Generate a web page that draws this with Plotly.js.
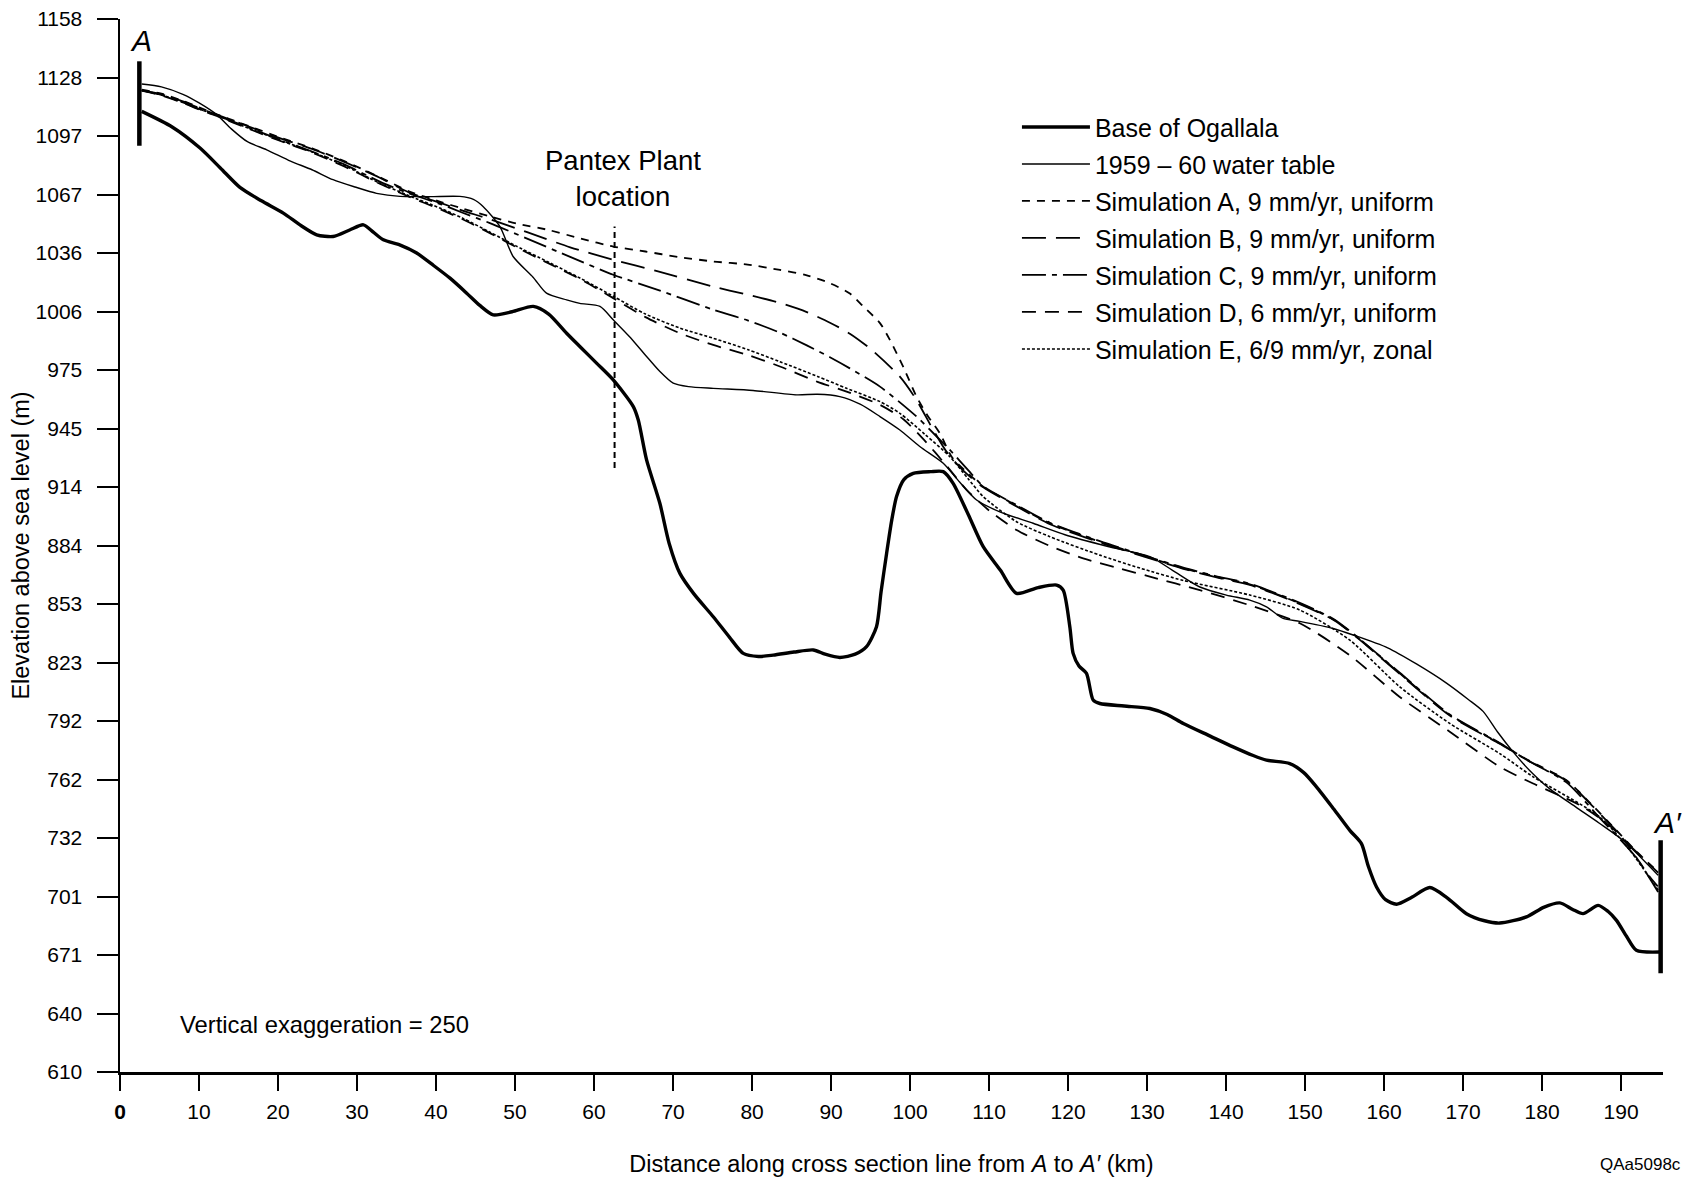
<!DOCTYPE html>
<html>
<head>
<meta charset="utf-8">
<script src="https://cdn.plot.ly/plotly-3.0.1.min.js"></script>
<style>html,body{margin:0;padding:0;background:#fff;}#chart{width:1687px;height:1177px;}</style>
</head>
<body>
<div id="chart"></div>
<script>
// ---- Data (distance along section in km, elevation in m) ----
const baseKm = [2.75, 6.60, 10.13, 12.73, 15.18, 17.90, 20.67, 22.94, 24.89, 26.97, 29.07, 30.80, 32.06, 33.33, 35.47, 37.55, 39.69, 41.77, 43.88, 45.54, 47.24, 49.63, 52.31, 54.26, 56.53, 58.20, 60.38, 62.43, 64.97, 65.60, 66.65, 68.33, 69.51, 70.87, 72.64, 75.09, 77.13, 78.89, 80.81, 82.68, 85.30, 87.75, 89.25, 91.11, 93.06, 94.49, 95.75, 96.33, 97.03, 97.69, 98.29, 99.19, 100.40, 102.59, 104.20, 105.45, 107.35, 109.26, 111.44, 113.48, 116.20, 118.55, 119.38, 120.22, 120.64, 121.38, 122.33, 123.17, 124.02, 127.10, 130.35, 132.54, 134.58, 137.99, 140.89, 143.43, 145.11, 148.06, 149.83, 151.44, 153.65, 155.66, 157.13, 158.00, 159.04, 160.18, 161.57, 163.45, 165.78, 167.94, 170.42, 172.71, 174.64, 178.02, 180.19, 182.24, 183.87, 185.18, 187.09, 188.36, 189.41, 190.68, 191.93, 194.89];
const baseM = [1110.1, 1102.0, 1091.0, 1080.5, 1070.5, 1063.5, 1057.1, 1050.5, 1045.8, 1044.9, 1048.3, 1051.0, 1047.2, 1043.2, 1040.4, 1036.3, 1029.8, 1023.2, 1015.4, 1009.0, 1004.1, 1005.7, 1008.5, 1004.5, 994.5, 987.6, 978.7, 970.2, 956.3, 949.3, 928.5, 905.9, 885.0, 869.4, 858.7, 846.8, 836.2, 827.7, 826.1, 826.8, 828.4, 829.5, 827.3, 825.6, 827.3, 831.2, 841.6, 859.8, 879.8, 897.4, 909.4, 918.1, 921.5, 922.4, 922.4, 916.3, 900.2, 883.3, 871.0, 859.0, 862.0, 863.3, 860.7, 841.6, 827.7, 821.1, 817.3, 803.4, 801.6, 800.3, 799.0, 795.9, 791.2, 784.6, 779.0, 774.5, 772.1, 770.3, 765.6, 758.2, 746.5, 735.5, 728.6, 716.8, 706.0, 699.4, 697.0, 700.5, 705.7, 700.5, 692.1, 688.4, 687.2, 690.4, 695.4, 697.7, 694.3, 692.1, 696.4, 693.2, 688.6, 680.3, 673.0, 672.1];

const waterKm = [2.75, 5.24, 7.96, 10.01, 12.24, 14.09, 16.13, 18.57, 21.58, 24.30, 26.97, 29.75, 32.47, 35.44, 39.28, 43.02, 44.73, 45.95, 48.09, 49.76, 52.31, 53.98, 56.53, 58.20, 60.75, 62.43, 64.47, 66.65, 68.28, 70.02, 71.96, 75.09, 80.13, 85.64, 88.29, 91.11, 93.74, 96.19, 98.71, 101.23, 104.20, 106.27, 108.42, 111.44, 115.58, 119.61, 125.05, 130.35, 133.22, 136.68, 140.03, 143.0, 145.11, 147.22, 149.33, 153.55, 156.08, 160.45, 164.09, 167.94, 170.66, 172.53, 174.34, 176.33, 178.42, 180.97, 184.28, 187.29, 190.41, 194.68];
const waterM = [1124.4, 1122.9, 1119.0, 1114.5, 1108.4, 1101.0, 1094.3, 1090.1, 1084.2, 1079.7, 1074.5, 1070.7, 1067.4, 1065.8, 1065.7, 1065.8, 1064.3, 1060.6, 1050.1, 1034.5, 1023.6, 1015.4, 1011.9, 1010.1, 1008.5, 1001.5, 992.8, 982.4, 974.8, 968.5, 966.7, 965.8, 964.7, 962.4, 962.7, 961.5, 957.4, 951.1, 944.1, 935.5, 926.8, 917.0, 907.6, 901.3, 895.5, 889.5, 883.4, 878.1, 871.0, 862.3, 858.1, 855.5, 852.0, 845.9, 844.4, 840.7, 837.3, 830.6, 822.2, 812.1, 803.7, 797.5, 786.9, 776.4, 766.7, 757.1, 747.6, 739.1, 729.7, 712.1];

const simAKm = [2.75, 5.24, 7.96, 10.01, 12.24, 16.13, 20.22, 24.30, 28.39, 32.88, 36.56, 40.64, 43.36, 46.82, 50.17, 54.26, 58.34, 62.43, 66.51, 70.59, 75.09, 79.44, 83.53, 86.93, 89.86, 92.38, 94.07, 96.19, 97.44, 99.19, 100.82, 102.18, 103.77, 105.31, 107.35, 109.26, 113.48, 117.70, 124.02, 130.35, 134.58, 138.67, 143.0, 149.33, 153.65, 156.5, 161.98, 168.31, 174.64, 178.15, 183.08, 186.32, 189.41, 191.77, 194.68];
const simAM = [1121.4, 1119.3, 1115.6, 1112.2, 1108.6, 1102.7, 1096.5, 1090.9, 1084.2, 1075.8, 1068.5, 1062.9, 1059.5, 1055.4, 1051.7, 1048.3, 1043.8, 1039.7, 1037.1, 1034.3, 1031.9, 1030.3, 1027.5, 1024.7, 1020.6, 1015.2, 1008.5, 999.8, 991.1, 976.5, 961.5, 951.8, 942.4, 929.9, 921.5, 914.6, 904.7, 895.5, 885.9, 877.5, 872.1, 867.7, 863.7, 853.7, 845.2, 836.4, 817.3, 795.6, 780.8, 772.3, 761.6, 748.7, 735.5, 725.2, 713.8];

const simBKm = [2.75, 5.24, 7.96, 10.01, 12.24, 16.13, 20.22, 24.30, 28.39, 32.88, 36.56, 40.64, 43.36, 46.82, 51.53, 56.98, 62.43, 67.87, 75.09, 79.44, 83.53, 86.93, 89.86, 92.38, 95.10, 98.71, 100.82, 102.93, 104.63, 106.67, 109.26, 113.48, 117.70, 124.02, 130.35, 134.58, 138.67, 143.0, 149.33, 153.65, 156.5, 161.98, 168.31, 174.64, 178.15, 183.08, 186.32, 189.41, 191.77, 194.68];
const simBM = [1121.0, 1119.0, 1115.3, 1111.9, 1108.4, 1102.5, 1096.2, 1090.5, 1083.8, 1075.5, 1067.9, 1062.3, 1058.4, 1053.9, 1047.2, 1039.3, 1032.8, 1027.0, 1018.8, 1014.6, 1010.3, 1005.5, 1000.0, 994.3, 986.0, 971.9, 959.7, 944.1, 932.7, 923.2, 914.2, 904.3, 895.0, 885.5, 877.2, 871.8, 867.4, 863.4, 853.4, 845.0, 836.2, 817.0, 795.3, 780.6, 772.0, 761.3, 748.4, 735.2, 724.9, 713.5];

const simCKm = [2.75, 5.24, 7.96, 10.01, 12.24, 16.13, 20.22, 24.30, 28.39, 32.88, 36.56, 40.64, 43.36, 46.82, 51.53, 56.98, 62.43, 67.87, 75.09, 79.44, 83.53, 86.93, 89.86, 92.38, 96.19, 100.82, 103.27, 105.04, 107.35, 109.26, 113.48, 117.70, 124.02, 130.35, 134.58, 138.67, 143.0, 149.33, 153.65, 156.5, 161.98, 168.31, 174.64, 178.15, 183.08, 187.29, 191.77, 194.68];
const simCM = [1120.9, 1118.7, 1114.8, 1111.4, 1108.0, 1101.9, 1095.4, 1089.2, 1082.5, 1073.5, 1067.4, 1061.7, 1057.3, 1051.9, 1043.8, 1034.3, 1025.0, 1017.4, 1006.8, 1001.2, 994.8, 988.2, 982.0, 976.2, 966.7, 951.1, 941.1, 933.7, 923.2, 914.8, 905.0, 895.8, 886.2, 877.8, 872.4, 868.0, 864.0, 854.0, 845.5, 836.6, 817.6, 795.9, 781.0, 772.0, 760.5, 742.0, 722.0, 703.4];

const simDKm = [2.75, 5.24, 7.96, 10.01, 12.24, 16.13, 20.22, 24.30, 28.39, 32.88, 36.56, 40.64, 43.36, 46.82, 50.17, 54.26, 58.34, 62.43, 66.51, 70.87, 75.09, 79.44, 83.53, 88.29, 91.97, 96.19, 99.19, 101.91, 104.63, 107.15, 110.08, 113.48, 117.57, 121.91, 126.42, 130.35, 136.68, 142.75, 149.33, 155.66, 161.98, 168.31, 174.64, 178.86, 185.18, 189.72, 193.62, 194.68];
const simDM = [1120.9, 1118.4, 1114.5, 1111.1, 1107.7, 1101.3, 1094.8, 1088.7, 1081.4, 1072.4, 1065.7, 1058.9, 1053.9, 1046.7, 1039.3, 1030.9, 1022.5, 1012.8, 1002.9, 994.5, 988.4, 983.2, 977.2, 969.2, 964.1, 957.2, 949.6, 938.3, 925.4, 912.9, 901.9, 892.0, 883.9, 877.2, 872.1, 867.7, 860.7, 853.1, 843.4, 826.7, 805.0, 786.9, 768.6, 759.9, 747.7, 733.6, 711.3, 706.1];

const simEKm = [2.75, 5.24, 7.96, 10.01, 12.24, 16.13, 20.22, 24.30, 28.39, 32.88, 36.56, 40.64, 43.36, 46.82, 50.17, 54.26, 58.34, 62.43, 66.51, 70.87, 75.09, 79.44, 83.53, 88.29, 91.97, 96.19, 98.71, 101.91, 105.04, 107.35, 109.26, 113.48, 117.70, 124.02, 129.14, 134.58, 143.0, 149.33, 155.66, 161.98, 168.31, 174.64, 178.86, 187.29, 191.09, 194.68];
const simEM = [1121.1, 1118.7, 1114.8, 1111.4, 1108.0, 1101.6, 1095.1, 1089.0, 1081.9, 1072.7, 1066.2, 1059.5, 1054.5, 1047.2, 1039.9, 1031.5, 1023.0, 1013.8, 1004.5, 997.2, 991.9, 986.0, 979.7, 972.0, 965.8, 958.9, 952.8, 941.7, 930.2, 918.7, 909.4, 896.3, 888.5, 878.9, 872.1, 865.7, 858.1, 850.3, 834.6, 810.3, 791.2, 775.5, 763.4, 742.5, 725.2, 704.4];

const seriesNames = ["Base of Ogallala", "1959 – 60 water table", "Simulation A, 9 mm/yr, uniform", "Simulation B, 9 mm/yr, uniform", "Simulation C, 9 mm/yr, uniform", "Simulation D, 6 mm/yr, uniform", "Simulation E, 6/9 mm/yr, zonal"];

// Axis ticks
const xTickVals = [0, 10, 20, 30, 40, 50, 60, 70, 80, 90, 100, 110, 120, 130, 140, 150, 160, 170, 180, 190];
const xTickText = ["<b>0</b>", "10", "20", "30", "40", "50", "60", "70", "80", "90", "100", "110", "120", "130", "140", "150", "160", "170", "180", "190"];
const yTickVals = [609.6, 640.08, 670.56, 701.04, 731.52, 762.0, 792.48, 822.96, 853.44, 883.92, 914.4, 944.88, 975.36, 1005.84, 1036.32, 1066.8, 1097.28, 1127.76, 1158.24];
const yTickText = ["610", "640", "671", "701", "732", "762", "792", "823", "853", "884", "914", "945", "975", "1006", "1036", "1067", "1097", "1128", "1158"];

// Section end markers (A, A′) and Pantex Plant location
const sectionEndKm = [2.45, 195.0];
const sectionEndTopM = [1136.2, 730.4];
const sectionEndBottomM = [1092.2, 661.0];
const pantexKm = 62.6;
const pantexRangeM = [924.3, 1050.1];

const FONT = "Liberation Sans, Arial, Helvetica, sans-serif";

function tr(x, y, i, width, dash) {
  return {
    x: x, y: y, name: seriesNames[i], type: "scatter", mode: "lines",
    legendgroup: "g" + i,
    line: {color: "#000", width: width, dash: dash, shape: "spline", smoothing: 0.7},
    hoverinfo: "skip"
  };
}

const data = [
  tr(baseKm, baseM, 0, 3.4, "solid"),
  tr(waterKm, waterM, 1, 1.4, "solid"),
  tr(simAKm, simAM, 2, 1.8, "8px,7px"),
  tr(simBKm, simBM, 3, 1.8, "24px,10px"),
  tr(simCKm, simCM, 4, 1.8, "24px,6px,5px,6px"),
  tr(simDKm, simDM, 5, 1.8, "14px,9px"),
  tr(simEKm, simEM, 6, 1.6, "3px,2px")
];

const shapes = [];
for (let i = 0; i < sectionEndKm.length; i++) {
  shapes.push({type: "line", xref: "x", yref: "y", x0: sectionEndKm[i], x1: sectionEndKm[i],
    y0: sectionEndBottomM[i], y1: sectionEndTopM[i], line: {color: "#000", width: 4.5}});
}
shapes.push({type: "line", xref: "x", yref: "y", x0: pantexKm, x1: pantexKm,
  y0: pantexRangeM[0], y1: pantexRangeM[1], line: {color: "#000", width: 2, dash: "6px,4px"}});

const annotations = [
  {text: "<i>A</i>", x: 2.66, y: 1147.0, xref: "x", yref: "y", showarrow: false,
   font: {family: FONT, size: 30, color: "#000"}, xanchor: "center", yanchor: "middle"},
  {text: "<i>A′</i>", x: 1.0026, y: 0.2372, xref: "paper", yref: "paper", showarrow: false,
   font: {family: FONT, size: 30, color: "#000"}, xanchor: "center", yanchor: "middle"},
  {text: "Pantex Plant<br>location", x: 63.66, y: 1075.3, xref: "x", yref: "y", showarrow: false,
   font: {family: FONT, size: 27.5, color: "#000"}, xanchor: "center", yanchor: "middle"},
  {text: "Vertical exaggeration = 250", x: 7.28, y: 634.4, xref: "x", yref: "y", showarrow: false,
   font: {family: FONT, size: 23.8, color: "#000"}, xanchor: "left", yanchor: "middle"},
  {text: "QAa5098c", x: 0.9857, y: -0.0878, xref: "paper", yref: "paper", showarrow: false,
   font: {family: FONT, size: 17, color: "#000"}, xanchor: "center", yanchor: "middle"}
];

const layout = {
  width: 1687, height: 1177,
  margin: {l: 120, r: 24, t: 19.4, b: 105.4, pad: 0},
  paper_bgcolor: "#fff", plot_bgcolor: "#fff",
  font: {family: FONT, color: "#000"},
  showlegend: true,
  legend: {x: 0.5813, y: 0.9191, xanchor: "left", yanchor: "top",
    bgcolor: "rgba(0,0,0,0)", borderwidth: 0, itemwidth: 68, tracegroupgap: 1.5,
    font: {family: FONT, size: 25, color: "#000"}, itemclick: false, itemdoubleclick: false},
  xaxis: {
    range: [0, 195.3], showgrid: false, zeroline: false, showline: true, linecolor: "#000", linewidth: 2.5,
    ticks: "outside", ticklen: 16, tickwidth: 2, tickcolor: "#000",
    tickmode: "array", tickvals: xTickVals, ticktext: xTickText,
    tickfont: {family: FONT, size: 21, color: "#000"}, ticklabelstandoff: 3,
    title: {text: "Distance along cross section line from <i>A</i> to <i>A′</i> (km)",
      font: {family: FONT, size: 23.5, color: "#000"}, standoff: 35}
  },
  yaxis: {
    range: [609.6, 1158.24], showgrid: false, zeroline: false, showline: true, linecolor: "#000", linewidth: 2.5,
    ticks: "outside", ticklen: 21, tickwidth: 2, tickcolor: "#000",
    tickmode: "array", tickvals: yTickVals, ticktext: yTickText,
    tickfont: {family: FONT, size: 21, color: "#000"}, ticklabelstandoff: 10,
    title: {text: "Elevation above sea level (m)", font: {family: FONT, size: 23.5, color: "#000"}, standoff: 0}
  },
  shapes: shapes,
  annotations: annotations
};

Plotly.newPlot("chart", data, layout, {displayModeBar: false, staticPlot: true});
</script>
</body>
</html>
